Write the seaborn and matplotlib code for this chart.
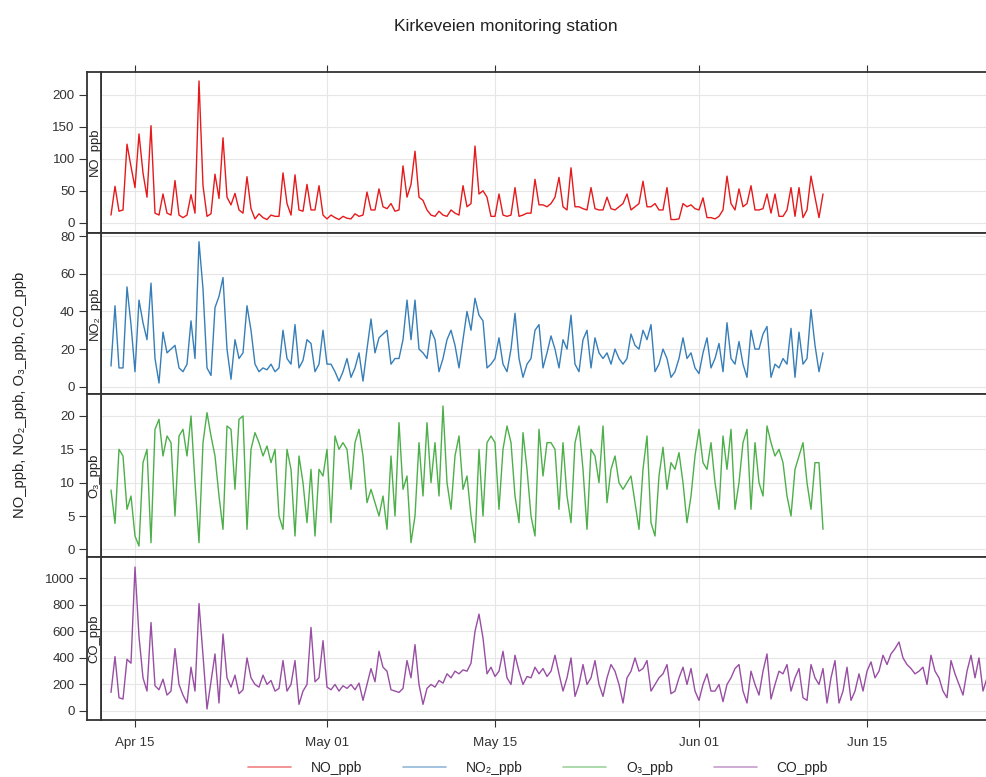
import numpy as np
import pandas as pd
import seaborn as sns
import matplotlib.pyplot as plt
from matplotlib.lines import Line2D

# 8-hourly values (00, 08, 16 h), starting 13 April
no_ppb = [12, 57, 18, 20, 123, 88, 55, 139, 78, 40, 152, 15, 12, 45, 15, 12, 66, 12,
          8, 12, 44, 15, 222, 58, 10, 14, 76, 38, 133, 40, 28, 46, 20, 15, 72, 22,
          6, 14, 8, 5, 12, 10, 10, 78, 30, 12, 75, 20, 18, 60, 20, 20, 58, 12,
          6, 12, 8, 5, 10, 7, 6, 14, 10, 12, 48, 20, 20, 53, 25, 22, 30, 18,
          20, 89, 40, 60, 112, 40, 35, 20, 12, 10, 18, 12, 10, 20, 15, 12, 58, 25,
          30, 120, 45, 50, 40, 10, 10, 45, 12, 10, 12, 55, 10, 12, 15, 15, 68, 28,
          28, 25, 30, 40, 71, 25, 20, 86, 25, 25, 22, 20, 55, 22, 20, 20, 40, 22,
          20, 25, 30, 45, 20, 25, 30, 65, 25, 25, 30, 20, 20, 55, 5, 5, 6, 30,
          25, 28, 22, 20, 39, 8, 8, 6, 10, 20, 73, 30, 20, 53, 25, 30, 58, 20,
          20, 22, 45, 15, 45, 10, 10, 20, 55, 10, 55, 8, 20, 73, 40, 8, 45]

no2_ppb = [11, 43, 10, 10, 53, 33, 8, 46, 34, 25, 55, 15, 2, 29, 18, 20, 22, 10,
           8, 12, 35, 15, 77, 52, 10, 6, 42, 48, 58, 20, 4, 25, 15, 18, 43, 30,
           12, 8, 10, 9, 12, 8, 10, 30, 15, 12, 33, 10, 14, 25, 23, 8, 12, 30,
           12, 12, 8, 3, 8, 15, 5, 10, 18, 3, 20, 36, 18, 26, 28, 30, 12, 15,
           15, 25, 46, 25, 46, 20, 18, 15, 30, 25, 8, 15, 25, 30, 22, 10, 25, 40,
           30, 47, 38, 35, 10, 12, 15, 26, 12, 8, 20, 39, 15, 5, 12, 15, 30, 33,
           10, 18, 27, 20, 10, 25, 20, 38, 12, 8, 25, 30, 10, 26, 18, 15, 18, 12,
           20, 15, 12, 15, 28, 22, 20, 30, 25, 33, 8, 12, 20, 15, 5, 8, 15, 26,
           15, 18, 10, 7, 18, 26, 10, 15, 23, 8, 34, 15, 12, 24, 12, 5, 30, 20,
           20, 28, 32, 5, 12, 10, 15, 12, 31, 5, 29, 12, 15, 41, 22, 8, 18]

o3_ppb = [8.9, 3.9, 15, 14, 6, 8, 2, 0.5, 13, 15, 1, 18, 19.5, 14, 17, 16, 5, 17,
          18, 14, 20, 10, 1, 16, 20.5, 17, 14, 8, 3, 18.5, 18, 9, 19.5, 20, 3, 15,
          17.5, 16, 14, 15.5, 13, 15, 5, 3, 15, 12, 2, 14, 10, 4, 12, 2, 12, 11,
          15, 4, 17, 15, 16, 15, 9, 16, 18, 14, 7, 9, 7, 5, 8, 3, 14, 5,
          19, 9, 11, 1, 5, 16, 8, 19, 10, 16, 8, 21.5, 10, 6, 14, 17, 9, 11,
          5, 1, 15, 5, 16, 17, 16, 6, 15, 18.5, 16, 8, 4, 17.5, 12, 5, 2, 18,
          11, 16, 16, 15, 6, 16, 8, 4, 16, 18.5, 12, 3, 15, 14, 10, 18.5, 7, 12,
          14, 10, 9, 10, 11, 7, 3, 12, 17, 4, 2, 11, 15.3, 9, 13, 12, 14.5, 10,
          4, 8, 14, 18, 13, 12, 16, 10, 6, 17, 12, 18, 6, 10, 16, 18, 6, 16,
          10, 8, 18.5, 16, 14, 15, 13, 8, 5, 12, 14, 16, 10, 6, 13, 13, 3]

co_ppb = [140, 410, 100, 90, 390, 360, 1085, 560, 250, 150, 667, 190, 160, 240, 120, 150, 470, 200,
          120, 60, 330, 150, 810, 420, 15, 220, 430, 60, 580, 250, 180, 270, 130, 160, 400, 250,
          200, 180, 270, 200, 230, 150, 170, 380, 150, 200, 380, 50, 150, 200, 630, 220, 250, 530,
          180, 160, 200, 150, 190, 170, 200, 160, 210, 80, 200, 320, 220, 450, 330, 300, 160, 150,
          140, 170, 380, 250, 500, 200, 50, 170, 200, 180, 230, 210, 280, 250, 300, 280, 310, 300,
          360, 600, 730, 550, 280, 330, 260, 300, 450, 250, 200, 420, 300, 200, 260, 250, 330, 280,
          320, 260, 300, 420, 280, 150, 250, 400, 110, 200, 350, 200, 250, 380, 200, 110, 250, 350,
          300, 200, 60, 250, 300, 400, 300, 320, 380, 150, 200, 250, 280, 350, 130, 150, 250, 330,
          200, 320, 150, 80, 200, 280, 150, 150, 200, 70, 200, 250, 320, 350, 150, 60, 300, 200,
          120, 300, 430, 90, 200, 300, 280, 350, 150, 250, 320, 100, 80, 350, 250, 200, 320, 60,
          250, 380, 60, 150, 330, 80, 150, 280, 150, 300, 370, 250, 300, 420, 350, 430, 470, 520,
          400, 350, 320, 280, 300, 330, 200, 420, 300, 250, 150, 100, 380, 280, 200, 120, 300, 420,
          250, 400, 150, 250, 300]

variables = ['NO_ppb', 'NO\u2082_ppb', 'O\u2083_ppb', 'CO_ppb']
colors = ['#E41A1C', '#377EB8', '#4DAF4A', '#984EA3']
tick_dates = pd.to_datetime(['2016-04-15', '2016-05-01', '2016-05-15', '2016-06-01', '2016-06-15'])
tick_labels = ['Apr 15', 'May 01', 'May 15', 'Jun 01', 'Jun 15']
y_ticks = [[0, 50, 100, 150, 200], [0, 20, 40, 60, 80], [0, 5, 10, 15, 20],
           [0, 200, 400, 600, 800, 1000]]
y_lims = [(-15.3, 236), (-4.0, 81.9), (-1.1, 23.25), (-68, 1163)]

frames = []
for name, vals in zip(variables, [no_ppb, no2_ppb, o3_ppb, co_ppb]):
    t = pd.date_range('2016-04-13 00:00', periods=len(vals), freq='8h')
    frames.append(pd.DataFrame({'date': t, 'value': vals, 'variable': name}))
df = pd.concat(frames, ignore_index=True)

sns.set_style('white')
plt.rcParams['font.family'] = ['Liberation Sans', 'DejaVu Sans']

fig = plt.figure(figsize=(9.87, 7.77), dpi=100)
W, H = 987, 777
left, strip_left, right = 101 / W, 87.3 / W, 1.0
edges = [72, 232.5, 394.3, 556.7, 720]
edge_col = '#333333'
x0 = pd.Timestamp('2016-04-12 04:00')
x1 = pd.Timestamp('2016-06-25 00:00')

for i, name in enumerate(variables):
    top, bot = 1 - edges[i] / H, 1 - edges[i + 1] / H
    ax = fig.add_axes([left, bot, right - left, top - bot])
    st = fig.add_axes([strip_left, bot, left - strip_left, top - bot], sharey=ax)

    sns.lineplot(data=df[df['variable'] == name], x='date', y='value', color=colors[i],
                 lw=1.0, ax=ax, legend=False, errorbar=None)
    ax.set_xlim(x0, x1)
    ax.set_ylim(*y_lims[i])
    ax.set_yticks(y_ticks[i])
    ax.set_xticks(tick_dates)
    ax.set_xticklabels(tick_labels)
    ax.grid(True, color='#e6e6e6', lw=0.8)
    ax.set_axisbelow(True)
    ax.set_xlabel('')
    ax.set_ylabel('')
    ax.tick_params(axis='y', left=False, labelleft=False)
    if i == 0:
        ax.tick_params(axis='x', top=True, bottom=False, labelbottom=False,
                       direction='out', length=5, color=edge_col)
    elif i == len(variables) - 1:
        ax.tick_params(axis='x', bottom=True, direction='out', length=5, color=edge_col,
                       labelsize=9.6, labelcolor='#333333', pad=7)
    else:
        ax.tick_params(axis='x', bottom=False, labelbottom=False)
    for s in ['top', 'bottom', 'left']:
        ax.spines[s].set_color(edge_col)
        ax.spines[s].set_linewidth(1.3)
    ax.spines['right'].set_visible(False)

    st.set_facecolor('white')
    st.set_xticks([])
    st.tick_params(axis='y', left=True, direction='out', length=6, color=edge_col,
                   labelsize=9.6, labelcolor='#333333', pad=3)
    for s in st.spines.values():
        s.set_color(edge_col)
        s.set_linewidth(1.3)
    st.text(0.55, 0.5, name, rotation=90, ha='center', va='center',
            fontsize=9.4, color='#222222', transform=st.transAxes)

fig.text(506 / W, 1 - 27 / H, 'Kirkeveien monitoring station', ha='center', va='center',
         fontsize=12.5, color='#222222')
fig.text(20 / W, 1 - 395 / H, 'NO_ppb, NO\u2082_ppb, O\u2083_ppb, CO_ppb', rotation=90,
         ha='center', va='center', fontsize=10.6, color='#222222')

handles = [Line2D([0], [0], color=c, lw=1.2, alpha=0.55) for c in colors]
fig.legend(handles, variables, loc='center', bbox_to_anchor=(538 / W, 1 - 768 / H), ncol=4,
           frameon=False, fontsize=10, handlelength=3.1, handletextpad=1.45,
           columnspacing=2.9)

fig.savefig('out.png', dpi=100)
